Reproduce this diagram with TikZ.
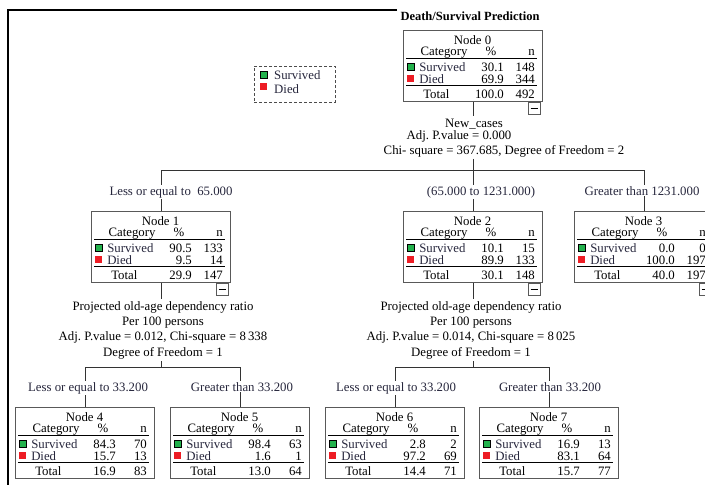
\documentclass[tikz,border=0pt]{standalone}
\usepackage{fontspec}
\setmainfont{Liberation Serif}
\frenchspacing

\definecolor{survgreen}{HTML}{22B14C}
\definecolor{diedred}{HTML}{ED1C24}
\definecolor{labtext}{RGB}{38,38,60}

\begin{document}
\begin{tikzpicture}
          [
            x=1pt, y=-1pt,
            every node/.style={font=\fontsize{12.8}{15.4}\selectfont,inner sep=0pt},
            box/.style={draw=black!65,line width=0.9pt,minimum width=139pt,minimum height=71pt,anchor=north},
            cell/.style={text height=8.5pt,text depth=2pt},
            edge/.style={draw=black!80,line width=0.9pt},
            split/.style={inner sep=2pt},
            branch/.style={fill=white,inner sep=1pt,anchor=base,text=labtext},
            rulethin/.style={line width=0.7pt},
            rulethick/.style={line width=1.3pt},
            survbox/.style={draw=black,line width=0.6pt,fill=survgreen},
            diedbox/.style={fill=diedred},
            minusbox/.style={draw=black!65,line width=0.8pt,fill=white,minimum size=12pt,anchor=north east,xshift=-2pt}
          ]
          \useasboundingbox (0,0) rectangle (705,485);
          % frame and title
          \draw [line width=1.2pt] (397,10) -- (8,10) -- (8,490);
          \node [anchor=base,font=\fontsize{12.5}{14}\selectfont\bfseries] (title) at (470,20) {Death/Survival Prediction};
          % legend
          \node [draw=black!70,line width=0.8pt,dash pattern=on 3pt off 2pt,minimum width=81pt,minimum height=36pt] (legend) at (294.5,84) {};
          \draw [survbox] (260,71) rectangle (267,78);
          \node [cell,anchor=base west,text=labtext] (lsurv) at (274,79) {Survived};
          \fill [diedbox] (260,83) rectangle (267,90);
          \node [cell,anchor=base west,text=labtext] (ldied) at (274,93) {Died};
          % tree nodes
          \foreach \id/\cx/\cy/\sP/\sN/\dP/\dN/\tP/\tN in {
              0/473/30/30.1/148/69.9/344/100.0/492,
              1/161/211/90.5/133/9.5/14/29.9/147,
              2/473/211/10.1/15/89.9/133/30.1/148,
              3/644/211/0.0/0/100.0/197/40.0/197,
              4/85/407/84.3/70/15.7/13/16.9/83,
              5/240/407/98.4/63/1.6/1/13.0/64,
              6/395/407/2.8/2/97.2/69/14.4/71,
              7/549/407/16.9/13/83.1/64/15.7/77} {
              \node [box] (n\id) at (\cx,\cy) {};
              \begin{scope}[shift={(n\id.north west)},every node/.append style={cell}]
                \node [anchor=base] (t\id) at (69.5,14) {Node \id};
                \node [anchor=base] (cat\id) at (41,25) {Category};
                \node [anchor=base] (pct\id) at (88,25) {\%};
                \node [anchor=base east] (num\id) at (132,25) {n};
                \draw [rulethin] (3,28) -- (134,28);
                \draw [survbox] (4,33) rectangle (11,40);
                \node [anchor=base west,text=labtext] (sv\id) at (16,41) {Survived};
                \node [anchor=base east] (svp\id) at (101,41) {\sP};
                \node [anchor=base east] (svn\id) at (132,41) {\sN};
                \fill [diedbox] (4,45) rectangle (11,52);
                \node [anchor=base west,text=labtext] (dd\id) at (16,53) {Died};
                \node [anchor=base east] (ddp\id) at (101,53) {\dP};
                \node [anchor=base east] (ddn\id) at (132,53) {\dN};
                \draw [rulethick] (3,55.5) -- (134,55.5);
                \node [anchor=base west] (tt\id) at (20,68) {Total};
                \node [anchor=base east] (ttp\id) at (101,68) {\tP};
                \node [anchor=base east] (ttn\id) at (132,68) {\tN};
              \end{scope}
          }
          % collapse buttons
          \foreach \id in {0,1,2,3} {
              \node [minusbox] (cb\id) at (n\id.south east) {};
              \draw [line width=0.9pt] ([xshift=2.5pt]cb\id.west) -- ([xshift=-2.5pt]cb\id.east);
          }
          % split of node 0
          \node [split,anchor=base] (s0a) at (474,127) {New\_cases};
          \node [split,anchor=base] (s0b) at (459,139) {Adj. P.value = 0.000};
          \node [split,anchor=base] (s0c) at (504,154) {Chi- square = 367.685, Degree of Freedom = 2};
          \coordinate (j0) at (473,170);
          \coordinate (b1) at (161,170);
          \coordinate (b3) at (644,170);
          \draw [edge] (n0.south) -- (n0.south |- s0a.north);
          \draw [edge] (j0 |- s0c.south) -- (j0);
          \draw [edge] (b1) -- (b3);
          \draw [edge] (b1) -- (n1.north);
          \draw [edge] (j0) -- (n2.north);
          \draw [edge] (b3) -- (n3.north);
          \node [branch] (l1) at (171,195) {Less or equal to~ 65.000};
          \node [branch] (l2) at (481,195) {(65.000 to 1231.000)};
          \node [branch] (l3) at (642,195) {Greater than 1231.000};
          % split of node 1
          \node [split,anchor=north,align=center] (s1) at (163,299)
          {Projected old-age dependency ratio\\Per 100 persons\\Adj. P.value = 0.012, Chi-square = 8\,338\\Degree of Freedom = 1};
          \coordinate (j1) at (161,367);
          \coordinate (b4) at (85,367);
          \coordinate (b5) at (240,367);
          \draw [edge] (n1.south) -- (n1.south |- s1.north);
          \draw [edge] (j1 |- s1.south) -- (j1);
          \draw [edge] (b4) -- (b5);
          \draw [edge] (b4) -- (n4.north);
          \draw [edge] (b5) -- (n5.north);
          \node [branch] (l4) at (88,391) {Less or equal to 33.200};
          \node [branch] (l5) at (242,391) {Greater than 33.200};
          % split of node 2
          \node [split,anchor=north,align=center] (s2) at (471,299)
          {Projected old-age dependency ratio\\Per 100 persons\\Adj. P.value = 0.014, Chi-square = 8\,025\\Degree of Freedom = 1};
          \coordinate (j2) at (473,367);
          \coordinate (b6) at (395,367);
          \coordinate (b7) at (549,367);
          \draw [edge] (n2.south) -- (n2.south |- s2.north);
          \draw [edge] (j2 |- s2.south) -- (j2);
          \draw [edge] (b6) -- (b7);
          \draw [edge] (b6) -- (n6.north);
          \draw [edge] (b7) -- (n7.north);
          \node [branch] (l6) at (396,391) {Less or equal to 33.200};
          \node [branch] (l7) at (550,391) {Greater than 33.200};
        \end{tikzpicture}
\end{document}
